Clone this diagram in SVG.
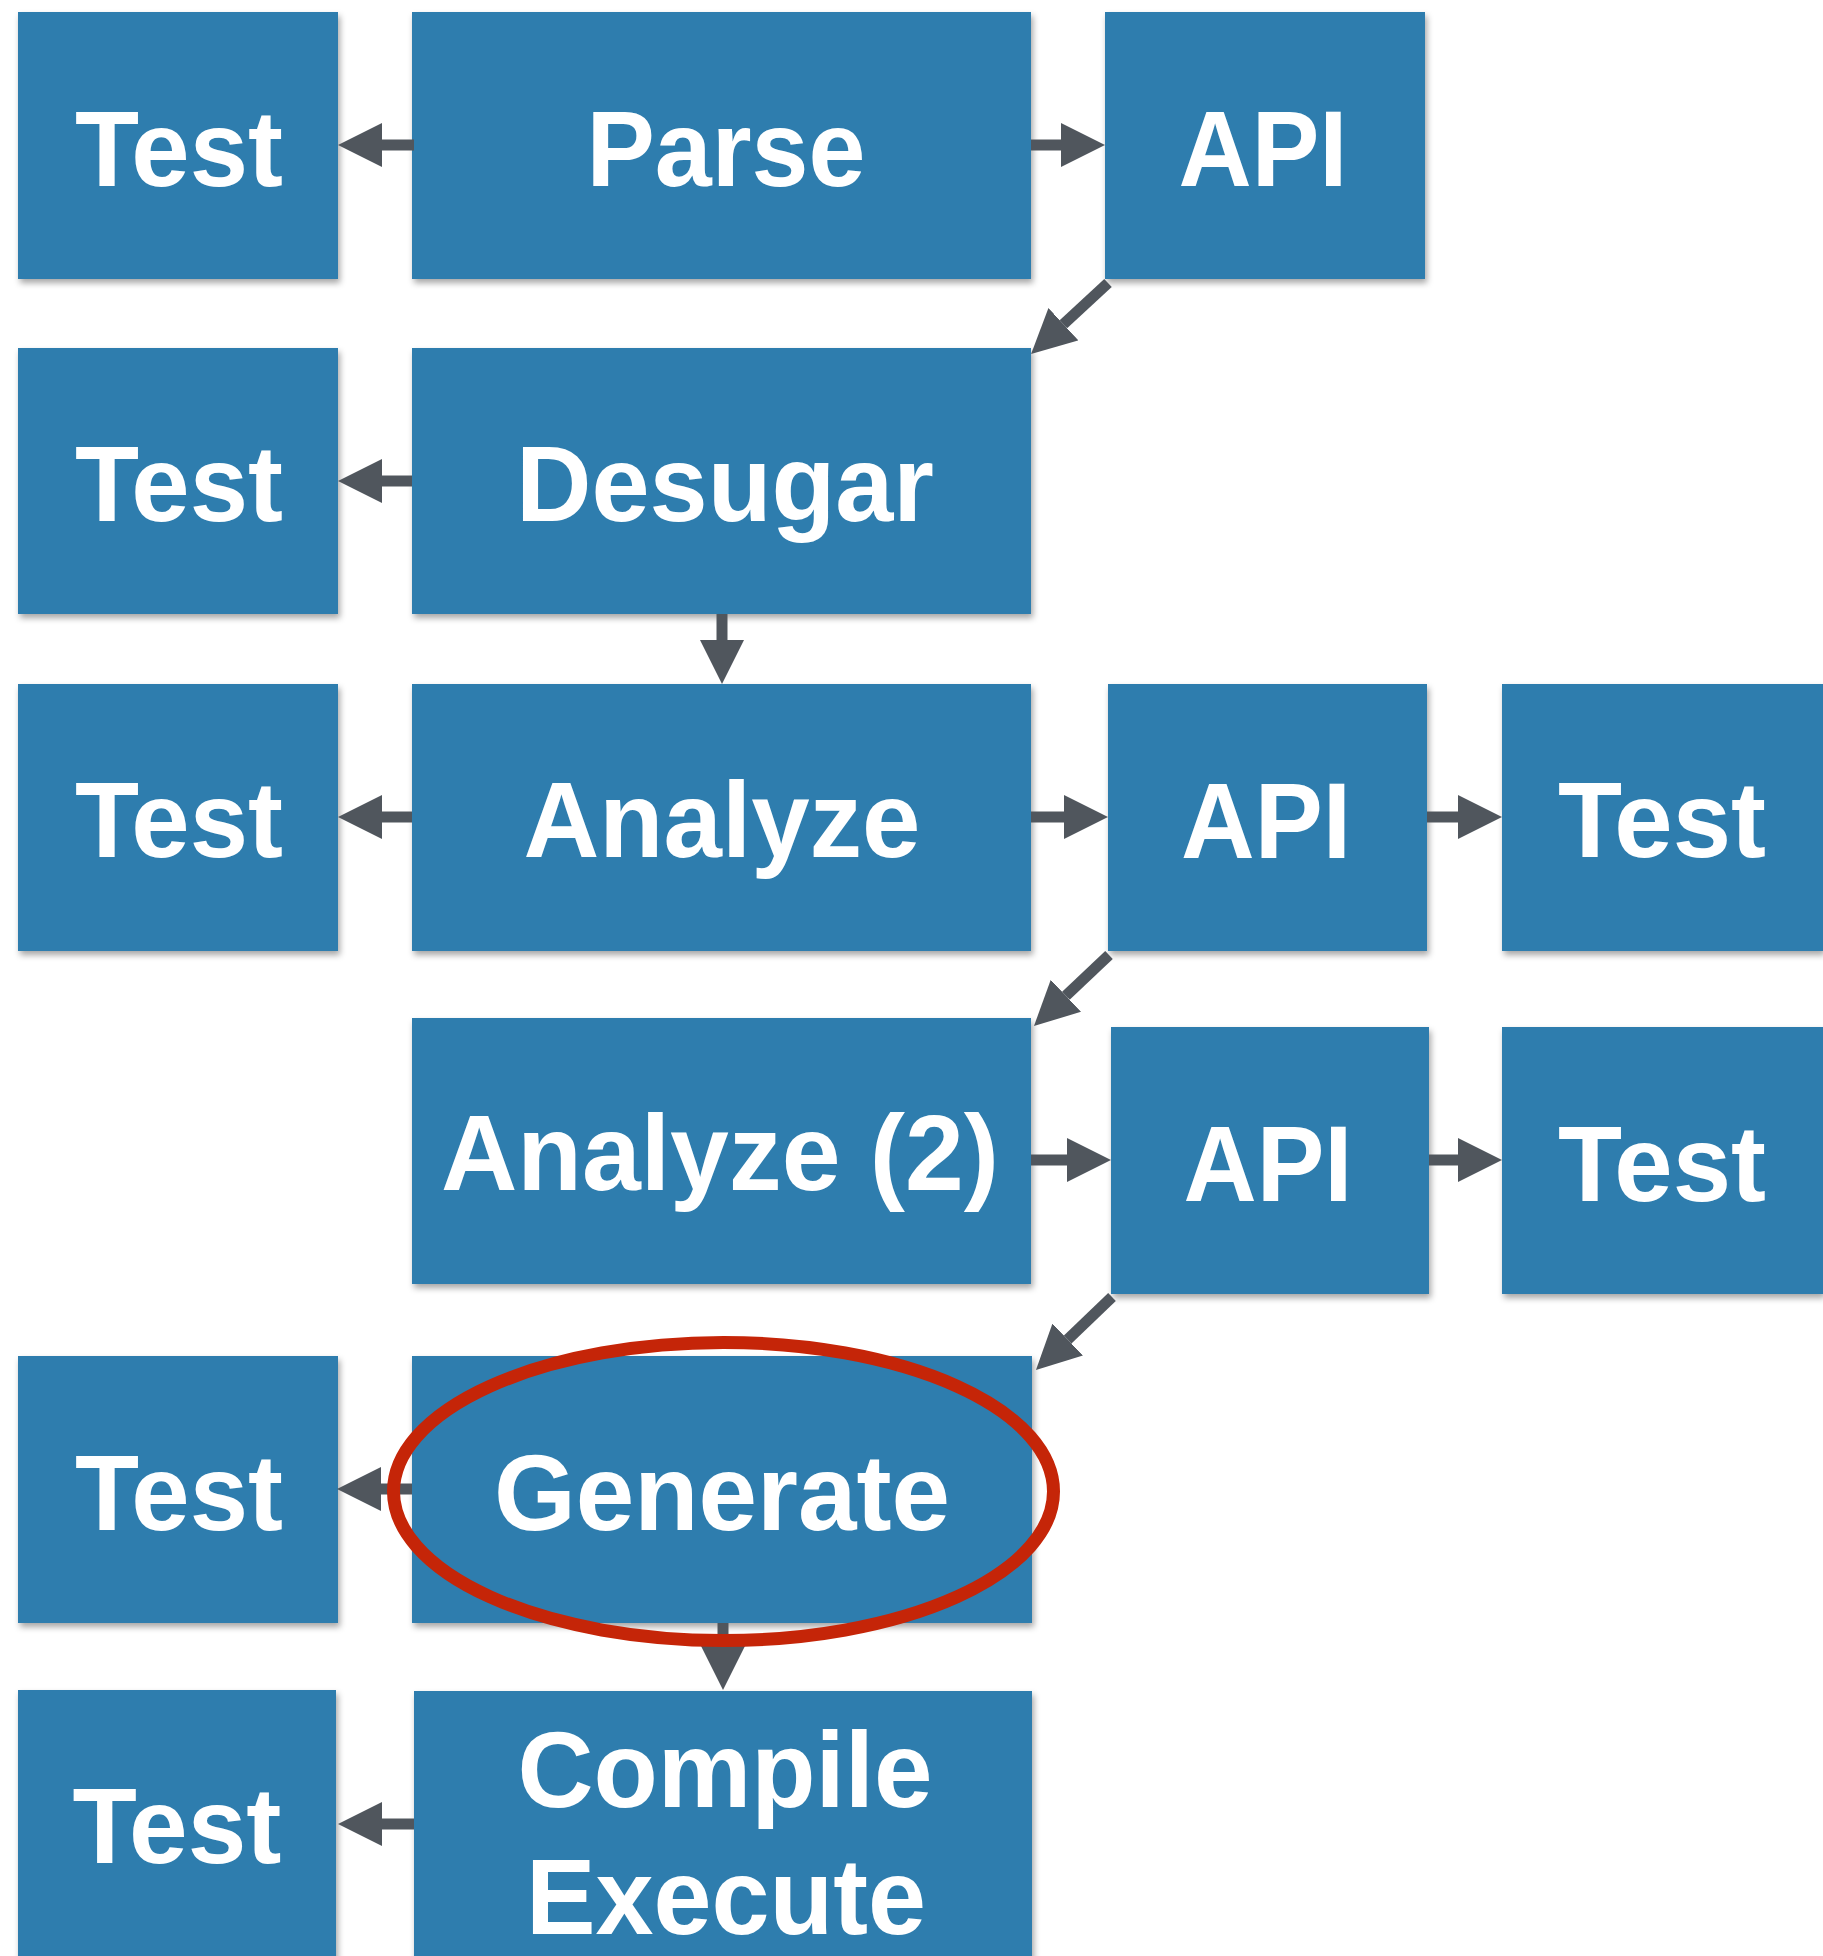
<svg xmlns="http://www.w3.org/2000/svg" width="1823" height="1956" viewBox="0 0 1823 1956">
  <style>
    .box { fill: #2E7DAE; filter: url(#shadow); }
    .lbl { font-family: "Liberation Sans", Arial, sans-serif; font-weight: bold; font-size: 107px; fill: #FFFFFF; text-anchor: middle; }
    .conn { stroke: #50565D; stroke-width: 11; fill: none; marker-end: url(#head); }
  </style>
  <defs>
    <filter id="shadow" x="-10%" y="-10%" width="120%" height="125%">
      <feDropShadow dx="2" dy="4" stdDeviation="3" flood-color="#000000" flood-opacity="0.35"/>
    </filter>
    <marker id="head" markerUnits="userSpaceOnUse" markerWidth="46" markerHeight="46" refX="0" refY="22" orient="auto">
      <path d="M0,0 L44,22 L0,44 Z" fill="#50565D"/>
    </marker>
  </defs>
  <rect width="1823" height="1956" fill="#FFFFFF"/>

  <g id="test1"><rect class="box" x="18" y="12" width="320" height="267"/><text class="lbl" x="179" y="186" textLength="208" lengthAdjust="spacingAndGlyphs">Test</text></g>
  <g id="parse"><rect class="box" x="412" y="12" width="619" height="267"/><text class="lbl" x="726" y="186" textLength="279" lengthAdjust="spacingAndGlyphs">Parse</text></g>
  <g id="api1"><rect class="box" x="1105" y="12" width="320" height="267"/><text class="lbl" x="1263" y="186" textLength="169" lengthAdjust="spacingAndGlyphs">API</text></g>

  <g id="test2"><rect class="box" x="18" y="348" width="320" height="266"/><text class="lbl" x="179" y="521" textLength="208" lengthAdjust="spacingAndGlyphs">Test</text></g>
  <g id="desugar"><rect class="box" x="412" y="348" width="619" height="266"/><text class="lbl" x="725" y="521" textLength="418" lengthAdjust="spacingAndGlyphs">Desugar</text></g>

  <g id="test3"><rect class="box" x="18" y="684" width="320" height="267"/><text class="lbl" x="179" y="857" textLength="208" lengthAdjust="spacingAndGlyphs">Test</text></g>
  <g id="analyze"><rect class="box" x="412" y="684" width="619" height="267"/><text class="lbl" x="722" y="857" textLength="397" lengthAdjust="spacingAndGlyphs">Analyze</text></g>
  <g id="api3"><rect class="box" x="1108" y="684" width="319" height="267"/><text class="lbl" x="1266" y="858" textLength="170" lengthAdjust="spacingAndGlyphs">API</text></g>
  <g id="test3r"><rect class="box" x="1502" y="684" width="321" height="267"/><text class="lbl" x="1662" y="857" textLength="208" lengthAdjust="spacingAndGlyphs">Test</text></g>

  <g id="analyze2"><rect class="box" x="412" y="1018" width="619" height="266"/><text class="lbl" x="720" y="1190" textLength="558" lengthAdjust="spacingAndGlyphs">Analyze (2)</text></g>
  <g id="api4"><rect class="box" x="1111" y="1027" width="318" height="267"/><text class="lbl" x="1268" y="1201" textLength="169" lengthAdjust="spacingAndGlyphs">API</text></g>
  <g id="test4r"><rect class="box" x="1502" y="1027" width="321" height="267"/><text class="lbl" x="1662" y="1201" textLength="208" lengthAdjust="spacingAndGlyphs">Test</text></g>

  <g id="test5"><rect class="box" x="18" y="1356" width="320" height="267"/><text class="lbl" x="179" y="1530" textLength="208" lengthAdjust="spacingAndGlyphs">Test</text></g>
  <g id="generate"><rect class="box" x="412" y="1356" width="620" height="267"/><text class="lbl" x="722" y="1530" textLength="456" lengthAdjust="spacingAndGlyphs">Generate</text></g>

  <g id="test6"><rect class="box" x="18" y="1690" width="318" height="280"/><text class="lbl" x="177" y="1863" textLength="209" lengthAdjust="spacingAndGlyphs">Test</text></g>
  <g id="compile"><rect class="box" x="414" y="1691" width="618" height="280"/><text class="lbl" x="725" y="1807" textLength="415" lengthAdjust="spacingAndGlyphs">Compile</text><text class="lbl" x="726" y="1934" textLength="400" lengthAdjust="spacingAndGlyphs">Execute</text></g>

  <g id="connectors">
    <line class="conn" x1="414" y1="145" x2="382" y2="145"/>
    <line class="conn" x1="1031" y1="145" x2="1061" y2="145"/>
    <line class="conn" x1="1108" y1="283" x2="1063.4" y2="324.2"/>
    <line class="conn" x1="412" y1="481" x2="382" y2="481"/>
    <line class="conn" x1="722" y1="614" x2="722" y2="640"/>
    <line class="conn" x1="412" y1="817" x2="382" y2="817"/>
    <line class="conn" x1="1031" y1="817" x2="1064" y2="817"/>
    <line class="conn" x1="1427" y1="817" x2="1458" y2="817"/>
    <line class="conn" x1="1109" y1="955" x2="1065.9" y2="995.8"/>
    <line class="conn" x1="1031" y1="1160" x2="1067" y2="1160"/>
    <line class="conn" x1="1429" y1="1160" x2="1458" y2="1160"/>
    <line class="conn" x1="1112" y1="1297" x2="1067.7" y2="1339.5"/>
    <line class="conn" x1="412" y1="1489" x2="381" y2="1489"/>
    <line class="conn" x1="723" y1="1623" x2="723" y2="1646"/>
    <line class="conn" x1="414" y1="1824" x2="382" y2="1824"/>
  </g>

  <g id="highlight">
    <ellipse cx="723.5" cy="1491.5" rx="330" ry="149" fill="none" stroke="#C52508" stroke-width="13"/>
  </g>
</svg>
